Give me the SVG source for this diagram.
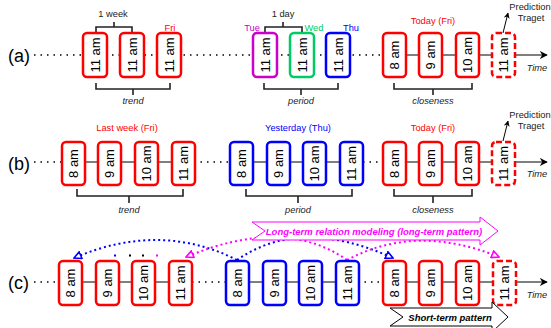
<svg xmlns="http://www.w3.org/2000/svg" width="551" height="328" viewBox="0 0 551 328">
<defs>
<style>
.t{font-family:"Liberation Sans",Arial,sans-serif;font-size:9.3px;fill:#222;text-anchor:middle}
.i{font-style:italic}
.bt{font-family:"Liberation Sans",Arial,sans-serif;font-size:13px;fill:#000;text-anchor:middle}
.lab{font-family:"Liberation Sans",Arial,sans-serif;font-size:18px;fill:#000}
.dot{stroke:#000;stroke-width:1.5;stroke-dasharray:1.5 5;fill:none}
.sol{stroke:#000;stroke-width:1;fill:none}
.br{stroke:#222;stroke-width:1.6;fill:none}
.bx{fill:#fff;stroke-width:2.5}
.r{stroke:#FF0000}
.b{stroke:#0000FF}
.m{stroke:#CC00CC}
.g{stroke:#00CC66}
.d{stroke:#FF0000;stroke-dasharray:6 3}
.arcb{stroke:#0000FF;stroke-width:2;stroke-dasharray:2 3;fill:none}
.arcm{stroke:#FF00FF;stroke-width:2;stroke-dasharray:2 3;fill:none}
</style>
<marker id="ah" viewBox="0 0 10 10" refX="9" refY="5" markerWidth="8" markerHeight="8" markerUnits="userSpaceOnUse" orient="auto"><path d="M0,0 L10,5 L0,10 L3,5 Z" fill="#000"/></marker>
<marker id="ahs" viewBox="0 0 10 10" refX="9" refY="5" markerWidth="6" markerHeight="6" markerUnits="userSpaceOnUse" orient="auto"><path d="M0,0 L10,5 L0,10 L3,5 Z" fill="#000"/></marker>
<marker id="ab" viewBox="0 0 10 10" refX="9" refY="5" markerWidth="9" markerHeight="9" markerUnits="userSpaceOnUse" orient="auto"><path d="M1,1 L9,5 L1,9 Z" fill="#fff" stroke="#0000FF" stroke-width="1.8"/></marker>
<marker id="am" viewBox="0 0 10 10" refX="9" refY="5" markerWidth="9" markerHeight="9" markerUnits="userSpaceOnUse" orient="auto"><path d="M1,1 L9,5 L1,9 Z" fill="#fff" stroke="#FF00FF" stroke-width="1.8"/></marker>
</defs>
<rect width="551" height="328" fill="#fff"/>

<g id="connectors">
<!-- row a -->
<line class="dot" x1="34" y1="55" x2="383" y2="55"/>
<line class="sol" x1="383" y1="55" x2="492" y2="55"/>
<line class="sol" x1="515" y1="55" x2="547" y2="55" marker-end="url(#ah)"/>
<line class="sol" x1="503" y1="33" x2="508" y2="13" marker-end="url(#ahs)"/>
<!-- row b -->
<line class="dot" x1="34" y1="162" x2="62" y2="162"/>
<line class="sol" x1="62" y1="162" x2="194" y2="162"/>
<line class="dot" x1="194" y1="162" x2="230" y2="162"/>
<line class="sol" x1="230" y1="162" x2="363" y2="162"/>
<line class="dot" x1="363" y1="162" x2="383" y2="162"/>
<line class="sol" x1="383" y1="162" x2="492" y2="162"/>
<line class="sol" x1="515" y1="162" x2="547" y2="162" marker-end="url(#ah)"/>
<line class="sol" x1="503" y1="141" x2="508" y2="121" marker-end="url(#ahs)"/>
<!-- row c -->
<line class="dot" x1="34" y1="282" x2="59" y2="282"/>
<line class="sol" x1="59" y1="282" x2="192" y2="282"/>
<line class="dot" x1="192" y1="282" x2="226" y2="282"/>
<line class="sol" x1="226" y1="282" x2="358" y2="282"/>
<line class="dot" x1="358" y1="282" x2="383" y2="282"/>
<line class="sol" x1="383" y1="282" x2="493" y2="282"/>
<line class="sol" x1="516" y1="282" x2="547" y2="282" marker-end="url(#ah)"/>
<!-- brackets row a -->
<path class="br" d="M96,33 V27 H132 V33 M114,27 V22"/>
<path class="br" d="M265,33 V27 H302 V33 M283,27 V22"/>
<path class="br" d="M96,83 V89 H170 V83 M133,89 V95"/>
<path class="br" d="M264,83 V89 H338 V83 M301,89 V95"/>
<path class="br" d="M394,83 V89 H472 V83 M433,89 V95"/>
<!-- brackets row b -->
<path class="br" d="M77,189 V196 H183 V189 M129,196 V203"/>
<path class="br" d="M246,189 V196 H352 V189 M298,196 V203"/>
<path class="br" d="M394,189 V196 H472 V189 M433,196 V203"/>
<!-- arcs row c -->
<path class="arcb" d="M237,260 Q160,221 74,258" marker-end="url(#ab)"/>
<path class="arcb" d="M237,260 Q300,216 393,258" marker-end="url(#ab)"/>
<path class="arcm" d="M347,260 Q284,216 186,257" marker-end="url(#am)"/>
<path class="arcm" d="M347,260 Q416,223 499,257" marker-end="url(#am)"/>
<rect x="114" y="254.5" width="2" height="2" fill="#0000FF"/>
<rect x="129" y="254.5" width="2" height="2" fill="#000"/>
<rect x="142" y="254.5" width="2" height="2" fill="#000"/>
<rect x="156" y="254.5" width="2" height="2" fill="#FF00FF"/>
</g>

<!-- labels -->
<text class="lab" x="8" y="62">(a)</text>
<text class="lab" x="8" y="170">(b)</text>
<text class="lab" x="8" y="289">(c)</text>

<text class="t" x="113" y="17">1 week</text>
<text class="t" x="283" y="17">1 day</text>
<text class="t" x="170" y="31" style="fill:#FF0000">Fri</text>
<text class="t" x="252" y="31" style="fill:#CC00CC">Tue</text>
<text class="t" x="314" y="31" style="fill:#00CC66">Wed</text>
<text class="t" x="351" y="31" style="fill:#0000FF">Thu</text>
<text class="t" x="433" y="24" style="fill:#FF0000">Today (Fri)</text>
<text class="t" x="530" y="10">Prediction</text>
<text class="t" x="531" y="21">Traget</text>
<text class="t i" x="537" y="71">Time</text>
<text class="t i" x="133" y="104">trend</text>
<text class="t i" x="301" y="104">period</text>
<text class="t i" x="433" y="104">closeness</text>

<text class="t" x="127" y="131" style="fill:#FF0000">Last week (Fri)</text>
<text class="t" x="298" y="131" style="fill:#0000FF">Yesterday (Thu)</text>
<text class="t" x="433" y="131" style="fill:#FF0000">Today (Fri)</text>
<text class="t" x="530" y="118">Prediction</text>
<text class="t" x="531" y="129">Traget</text>
<text class="t i" x="537" y="177">Time</text>
<text class="t i" x="129" y="213">trend</text>
<text class="t i" x="298" y="213">period</text>
<text class="t i" x="433" y="213">closeness</text>
<text class="t i" x="537" y="298">Time</text>

<!-- row a nodes -->
<g id="a1"><rect class="bx r" x="83" y="33" width="24" height="44" rx="4"/><text class="bt" transform="translate(99.5,55) rotate(-90)">11 am</text></g>
<g id="a2"><rect class="bx r" x="120" y="33" width="24" height="44" rx="4"/><text class="bt" transform="translate(136.5,55) rotate(-90)">11 am</text></g>
<g id="a3"><rect class="bx r" x="157" y="33" width="24" height="44" rx="4"/><text class="bt" transform="translate(173.5,55) rotate(-90)">11 am</text></g>
<g id="a4"><rect class="bx m" x="253" y="33" width="24" height="44" rx="4"/><text class="bt" transform="translate(269.5,55) rotate(-90)">11 am</text></g>
<g id="a5"><rect class="bx g" x="290" y="33" width="24" height="44" rx="4"/><text class="bt" transform="translate(306.5,55) rotate(-90)">11 am</text></g>
<g id="a6"><rect class="bx b" x="326" y="33" width="24" height="44" rx="4"/><text class="bt" transform="translate(342.5,55) rotate(-90)">11 am</text></g>
<g id="a7"><rect class="bx r" x="383" y="33" width="23" height="44" rx="4"/><text class="bt" transform="translate(399,55) rotate(-90)">8 am</text></g>
<g id="a8"><rect class="bx r" x="419" y="33" width="23" height="44" rx="4"/><text class="bt" transform="translate(435,55) rotate(-90)">9 am</text></g>
<g id="a9"><rect class="bx r" x="456" y="33" width="23" height="44" rx="4"/><text class="bt" transform="translate(472,55) rotate(-90)">10 am</text></g>
<g id="a10"><rect class="bx d" x="492" y="33" width="23" height="44" rx="4"/><text class="bt" transform="translate(508,55) rotate(-90)">11 am</text></g>

<!-- row b nodes -->
<g id="b1"><rect class="bx r" x="62" y="142" width="23" height="43" rx="4"/><text class="bt" transform="translate(78,163.5) rotate(-90)">8 am</text></g>
<g id="b2"><rect class="bx r" x="98" y="142" width="23" height="43" rx="4"/><text class="bt" transform="translate(114,163.5) rotate(-90)">9 am</text></g>
<g id="b3"><rect class="bx r" x="135" y="142" width="23" height="43" rx="4"/><text class="bt" transform="translate(151,163.5) rotate(-90)">10 am</text></g>
<g id="b4"><rect class="bx r" x="172" y="142" width="23" height="43" rx="4"/><text class="bt" transform="translate(188,163.5) rotate(-90)">11 am</text></g>
<g id="b5"><rect class="bx b" x="230" y="142" width="23" height="43" rx="4"/><text class="bt" transform="translate(246,163.5) rotate(-90)">8 am</text></g>
<g id="b6"><rect class="bx b" x="267" y="142" width="23" height="43" rx="4"/><text class="bt" transform="translate(283,163.5) rotate(-90)">9 am</text></g>
<g id="b7"><rect class="bx b" x="303" y="142" width="23" height="43" rx="4"/><text class="bt" transform="translate(319,163.5) rotate(-90)">10 am</text></g>
<g id="b8"><rect class="bx b" x="340" y="142" width="23" height="43" rx="4"/><text class="bt" transform="translate(356,163.5) rotate(-90)">11 am</text></g>
<g id="b9"><rect class="bx r" x="383" y="142" width="23" height="43" rx="4"/><text class="bt" transform="translate(399,163.5) rotate(-90)">8 am</text></g>
<g id="b10"><rect class="bx r" x="419" y="142" width="23" height="43" rx="4"/><text class="bt" transform="translate(435,163.5) rotate(-90)">9 am</text></g>
<g id="b11"><rect class="bx r" x="456" y="142" width="23" height="43" rx="4"/><text class="bt" transform="translate(472,163.5) rotate(-90)">10 am</text></g>
<g id="b12"><rect class="bx d" x="492" y="142" width="23" height="43" rx="4"/><text class="bt" transform="translate(508,163.5) rotate(-90)">11 am</text></g>

<!-- row c nodes -->
<g id="c1"><rect class="bx r" x="59" y="261" width="23" height="44" rx="4"/><text class="bt" transform="translate(75,283) rotate(-90)">8 am</text></g>
<g id="c2"><rect class="bx r" x="96" y="261" width="23" height="44" rx="4"/><text class="bt" transform="translate(112,283) rotate(-90)">9 am</text></g>
<g id="c3"><rect class="bx r" x="132" y="261" width="23" height="44" rx="4"/><text class="bt" transform="translate(148,283) rotate(-90)">10 am</text></g>
<g id="c4"><rect class="bx r" x="169" y="261" width="23" height="44" rx="4"/><text class="bt" transform="translate(185,283) rotate(-90)">11 am</text></g>
<g id="c5"><rect class="bx b" x="226" y="261" width="23" height="44" rx="4"/><text class="bt" transform="translate(242,283) rotate(-90)">8 am</text></g>
<g id="c6"><rect class="bx b" x="263" y="261" width="23" height="44" rx="4"/><text class="bt" transform="translate(279,283) rotate(-90)">9 am</text></g>
<g id="c7"><rect class="bx b" x="299" y="261" width="23" height="44" rx="4"/><text class="bt" transform="translate(315,283) rotate(-90)">10 am</text></g>
<g id="c8"><rect class="bx b" x="336" y="261" width="23" height="44" rx="4"/><text class="bt" transform="translate(352,283) rotate(-90)">11 am</text></g>
<g id="c9"><rect class="bx r" x="383" y="261" width="23" height="44" rx="4"/><text class="bt" transform="translate(399,283) rotate(-90)">8 am</text></g>
<g id="c10"><rect class="bx r" x="419" y="261" width="23" height="44" rx="4"/><text class="bt" transform="translate(435,283) rotate(-90)">9 am</text></g>
<g id="c11"><rect class="bx r" x="456" y="261" width="23" height="44" rx="4"/><text class="bt" transform="translate(472,283) rotate(-90)">10 am</text></g>
<g id="c12"><rect class="bx d" x="493" y="261" width="23" height="44" rx="4"/><text class="bt" transform="translate(509,283) rotate(-90)">11 am</text></g>

<!-- big arrows -->
<g id="longterm">
<path d="M252,222 H480 V217 L498,231 L480,245 V240 H252 L265,231 Z" fill="#fff" stroke="#FF00FF" stroke-width="1"/>
<text x="374" y="234.5" style="font-family:'Liberation Sans',Arial,sans-serif;font-size:9.5px;font-weight:bold;font-style:italic;fill:#FF00FF;text-anchor:middle">Long-term relation modeling (long-term pattern)</text>
</g>
<g id="shortterm">
<path d="M390,308 H492 V302 L508,317 L492,332 V326 H390 L403,317 Z" fill="#fff" stroke="#000" stroke-width="1"/>
<text x="450" y="321" style="font-family:'Liberation Sans',Arial,sans-serif;font-size:9.5px;font-weight:bold;font-style:italic;fill:#000;text-anchor:middle">Short-term pattern</text>
</g>
</svg>
